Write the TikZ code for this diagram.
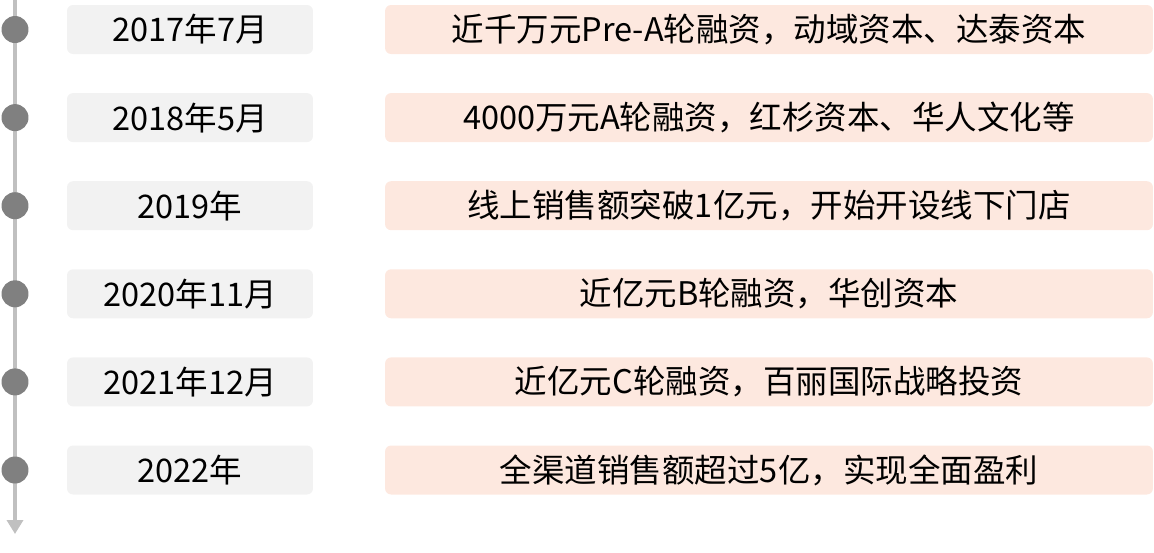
\documentclass[tikz,border=0pt]{standalone}
\usepackage{fontspec}
\setmainfont{Noto Sans CJK SC}
\usepackage{tikz}
\usetikzlibrary{positioning,arrows.meta}
\definecolor{Rail}{HTML}{C0C0C0}
\definecolor{Dot}{HTML}{808080}
\definecolor{Grey}{HTML}{F2F2F2}
\definecolor{Peach}{HTML}{FDE8DF}

\begin{document}
\begin{tikzpicture}[x=0.02cm, y=-0.02cm, every node/.style={font=\fontsize{18.5}{20}\selectfont}]
\tikzstyle{datebox}=[fill=Grey,rounded corners=1.2mm,minimum width=4.92cm,minimum height=.98cm,align=center,inner sep=0pt]
\tikzstyle{eventbox}=[fill=Peach,rounded corners=1.2mm,minimum width=15.36cm,minimum height=.98cm,align=center,inner sep=0pt]
\tikzstyle{dot}=[circle,fill=Dot,minimum size=.54cm,inner sep=0pt]
\useasboundingbox (0,0) rectangle (1154,552);
% timeline
\coordinate (top) at (15,0);
\coordinate (bottom) at (15,534);
\draw[-{Triangle[length=2.8mm,width=3.2mm]},line width=.08cm,Rail] (top)--(bottom);
% dates
\node[datebox] (d1) at (190,29.5) {2017年7月};
\node[datebox] (d2) at (190,117.6) {2018年5月};
\node[datebox] (d3) at (190,205.7) {2019年};
\node[datebox] (d4) at (190,293.8) {2020年11月};
\node[datebox] (d5) at (190,381.9) {2021年12月};
\node[datebox] (d6) at (190,470) {2022年};
% events
\node[eventbox] (e1) at (769,29.5) {近千万元Pre-A轮融资，动域资本、达泰资本};
\node[eventbox] (e2) at (769,117.6) {4000万元A轮融资，红杉资本、华人文化等};
\node[eventbox] (e3) at (769,205.7) {线上销售额突破1亿元，开始开设线下门店};
\node[eventbox] (e4) at (769,293.8) {近亿元B轮融资，华创资本};
\node[eventbox] (e5) at (769,381.9) {近亿元C轮融资，百丽国际战略投资};
\node[eventbox] (e6) at (769,470) {全渠道销售额超过5亿，实现全面盈利};
% dots
\node[dot] (p1) at (15,29.5) {};
\node[dot] (p2) at (15,117.6) {};
\node[dot] (p3) at (15,205.7) {};
\node[dot] (p4) at (15,293.8) {};
\node[dot] (p5) at (15,381.9) {};
\node[dot] (p6) at (15,470) {};
\end{tikzpicture}
\end{document}
